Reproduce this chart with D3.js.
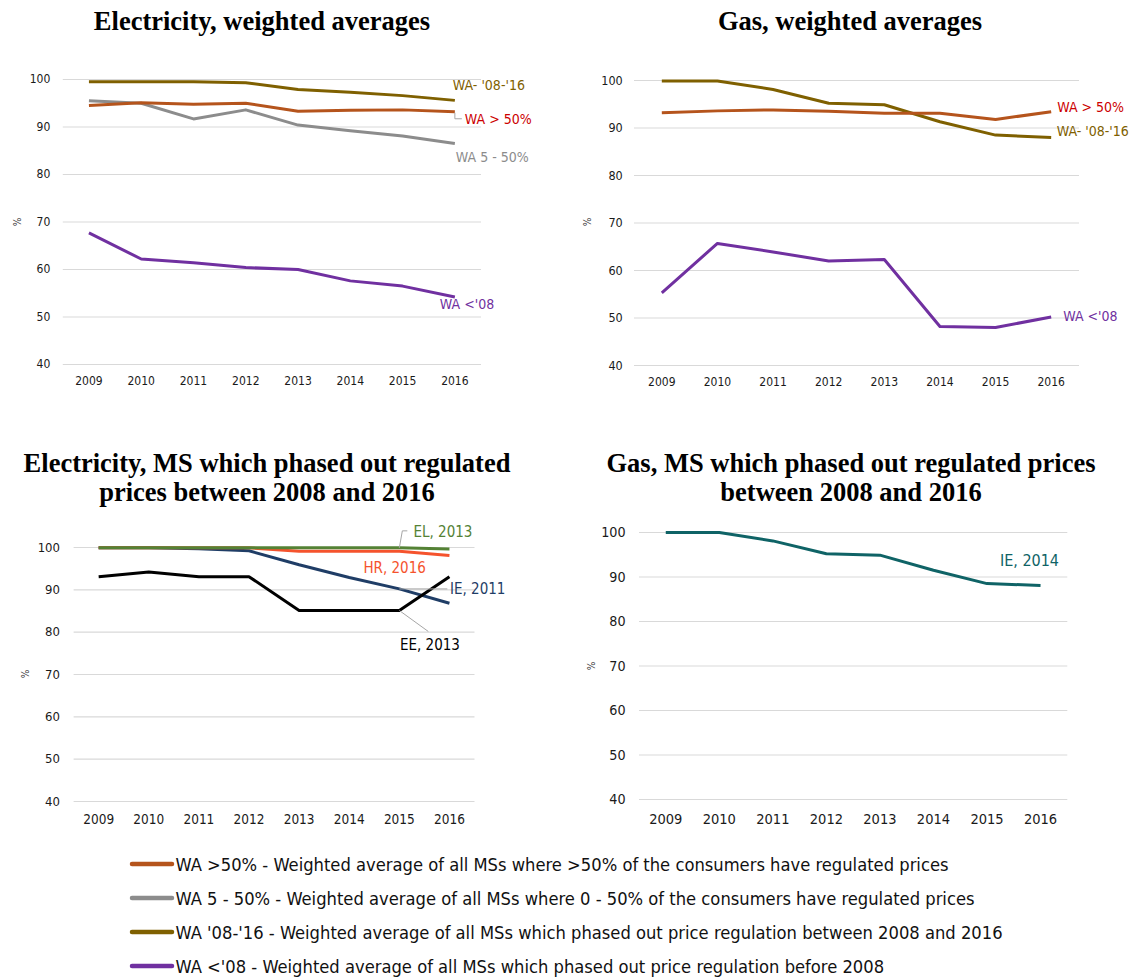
<!DOCTYPE html>
<html>
<head>
<meta charset="utf-8">
<script src="https://cdn.jsdelivr.net/npm/d3@7"></script>
<style>
  html, body { margin: 0; padding: 0; background: #ffffff; }
  svg { display: block; }
</style>
</head>
<body>
<script>
// ---------------- DATA ----------------
const years = ["2009", "2010", "2011", "2012", "2013", "2014", "2015", "2016"];
const yTicks = [40, 50, 60, 70, 80, 90, 100];

// Electricity, weighted averages
const elecWA_gt50 = [94.4, 95.0, 94.7, 94.9, 93.2, 93.4, 93.5, 93.1];
const elecWA_5to50 = [95.4, 94.9, 91.6, 93.5, 90.3, 89.1, 88.0, 86.4];
const elecWA_0816 = [99.4, 99.4, 99.4, 99.2, 97.8, 97.2, 96.5, 95.5];
const elecWA_lt08 = [67.6, 62.1, 61.3, 60.3, 59.9, 57.5, 56.4, 54.1];

// Gas, weighted averages
const gasWA_gt50 = [93.1, 93.5, 93.7, 93.4, 93.0, 93.0, 91.7, 93.3];
const gasWA_0816 = [99.8, 99.8, 98.0, 95.1, 94.8, 91.2, 88.4, 87.9];
const gasWA_lt08 = [55.2, 65.6, 63.8, 61.9, 62.2, 48.1, 47.9, 50.1];

// Electricity, MS which phased out regulated prices between 2008 and 2016
const elecMS_IE = [99.8, 99.8, 99.6, 99.1, 95.8, 92.8, 90.1, 86.7];
const elecMS_HR = [99.8, 99.8, 99.8, 99.8, 99.0, 99.0, 99.0, 98.0];
const elecMS_EE = [93.0, 94.1, 93.0, 93.0, 85.0, 85.0, 85.0, 93.0];
const elecMS_EL = [99.8, 99.8, 99.8, 99.8, 99.8, 99.8, 99.8, 99.5];

// Gas, MS which phased out regulated prices between 2008 and 2016
const gasMS_IE = [99.9, 99.9, 98.0, 95.1, 94.8, 91.4, 88.4, 88.0];

const titles = [
  ["Electricity, weighted averages"],
  ["Gas, weighted averages"],
  ["Electricity, MS which phased out regulated", "prices between 2008 and 2016"],
  ["Gas, MS which phased out regulated prices", "between 2008 and 2016"]
];

const legendLabels = [
  "WA >50% - Weighted average of all MSs where >50% of the consumers have regulated prices",
  "WA 5 - 50% - Weighted average of all MSs where 0 - 50% of the consumers have regulated prices",
  "WA '08-'16 - Weighted average of all MSs which phased out price regulation between 2008 and 2016",
  "WA <'08 - Weighted average of all MSs which phased out price regulation before 2008"
];

// ---------------- STYLE ----------------
const C = {
  gt50: "#b5541c", grey: "#8c8c8c", olive: "#7f6000", purple: "#7030a0",
  red: "#cc0000", green: "#548235", hr: "#f5532d", navy: "#1f3d66",
  black: "#000000", teal: "#0f6366", grid: "#d9d9d9", leader: "#a6a6a6"
};
const SANS = "'DejaVu Sans Condensed', 'DejaVu Sans', Tahoma, sans-serif";
const SERIF = "'Liberation Serif', 'Times New Roman', serif";

const svg = d3.select("body").append("svg")
  .attr("width", 1137).attr("height", 978);

function drawPanel(cfg) {
  const g = svg.append("g");
  const x = d3.scaleBand().domain(years).range([cfg.x0, cfg.x1]);
  const cx = d => x(d) + x.bandwidth() / 2;
  const y = d3.scaleLinear().domain([40, 100]).range([cfg.y40, cfg.y100]);

  // y axis with gridlines
  const ya = g.append("g").attr("transform", `translate(${cfg.x0},0)`)
    .call(d3.axisLeft(y).tickValues(yTicks).tickSize(-(cfg.x1 - cfg.x0)).tickPadding(cfg.yPad));
  ya.select(".domain").remove();
  ya.selectAll(".tick line").attr("stroke", C.grid).attr("stroke-width", 1.2);
  ya.selectAll(".tick text").attr("font-family", SANS).attr("font-size", cfg.tickFs).attr("fill", "#1a1a1a");

  // x axis
  const xa = g.append("g").attr("transform", `translate(0,${cfg.y40})`)
    .call(d3.axisBottom(x).tickSize(0).tickPadding(cfg.xPad));
  xa.select(".domain").remove();
  xa.selectAll(".tick text").attr("font-family", SANS).attr("font-size", cfg.yearFs).attr("fill", "#1a1a1a");

  // % label
  g.append("text")
    .attr("transform", `translate(${cfg.pctX},${cfg.pctY}) rotate(-90)`)
    .attr("text-anchor", "middle").attr("dy", "0.35em")
    .attr("font-family", SANS).attr("font-size", 10).attr("fill", "#404040")
    .text("%");

  // title
  const t = svg.append("text").attr("text-anchor", "middle")
    .attr("font-family", SERIF).attr("font-weight", "bold").attr("font-size", 26.5)
    .attr("fill", "#000");
  cfg.title.forEach((line, i) => {
    t.append("tspan").attr("x", cfg.titleX).attr("y", cfg.titleY + i * 29).text(line);
  });

  const line = d3.line().x((d, i) => cx(years[i])).y(d => y(d));
  const last = years[years.length - 1];
  cfg.series.forEach(s => {
    g.append("path").datum(s.values)
      .attr("fill", "none").attr("stroke", s.color).attr("stroke-width", 3)
      .attr("stroke-linejoin", "round").attr("d", line);
  });
  cfg.series.forEach(s => {
    const px = cx(last), py = y(s.values[s.values.length - 1]);
    if (s.leader) {
      const pts = s.leader.map(p => [cx(years[p[0]]) + p[1], y(s.values[p[0]]) + p[2]]);
      g.append("path").attr("fill", "none").attr("stroke", C.leader).attr("stroke-width", 1)
        .attr("d", d3.line()(pts));
    }
    g.append("text")
      .attr("x", px + s.dx).attr("y", py + s.dy).attr("dy", "0.36em")
      .attr("font-family", SANS).attr("font-size", cfg.labelFs)
      .attr("fill", s.labelColor || s.color)
      .text(s.label);
  });
}

drawPanel({
  x0: 62.8, x1: 481, y100: 79, y40: 364, yPad: 12.5, xPad: 12, tickFs: 12, yearFs: 12, labelFs: 14,
  pctX: 17, pctY: 222, titleX: 262, titleY: 30, title: titles[0],
  series: [
    { values: elecWA_lt08, color: C.purple, label: "WA <'08", dx: -15, dy: 6.5 },
    { values: elecWA_5to50, color: C.grey, label: "WA 5 - 50%", dx: 1, dy: 13 },
    { values: elecWA_gt50, color: C.gt50, labelColor: C.red, label: "WA > 50%", dx: 10, dy: 7.5,
      leader: [[7, 0, 1], [7, 0, 7], [7, 7, 7]] },
    { values: elecWA_0816, color: C.olive, label: "WA- '08-'16", dx: -2, dy: -15 }
  ]
});

drawPanel({
  x0: 634, x1: 1079, y100: 80, y40: 365, yPad: 11.3, xPad: 12, tickFs: 12.5, yearFs: 12, labelFs: 14,
  pctX: 587, pctY: 222, titleX: 850, titleY: 30, title: titles[1],
  series: [
    { values: gasWA_lt08, color: C.purple, label: "WA <'08", dx: 12, dy: -1.5 },
    { values: gasWA_0816, color: C.olive, label: "WA- '08-'16", dx: 5.5, dy: -7 },
    { values: gasWA_gt50, color: C.gt50, labelColor: C.red, label: "WA > 50%", dx: 6, dy: -5 }
  ]
});

drawPanel({
  x0: 73.6, x1: 474.5, y100: 547, y40: 801, yPad: 13.6, xPad: 13, tickFs: 13, yearFs: 13.5, labelFs: 15,
  pctX: 25, pctY: 674, titleX: 267, titleY: 472, title: titles[2],
  series: [
    { values: elecMS_IE, color: C.navy, label: "IE, 2011", dx: 0.6, dy: -14.3,
      leader: [[6, 0, 0], [6, 48, 0]] },
    { values: elecMS_HR, color: C.hr, label: "HR, 2016", dx: -86, dy: 11.8 },
    { values: elecMS_EE, color: C.black, label: "EE, 2013", dx: -49.5, dy: 68.4,
      leader: [[6, 0, 0], [6, 29, 21]] },
    { values: elecMS_EL, color: C.green, label: "EL, 2013", dx: -36, dy: -17.3,
      leader: [[6, 0, 0], [6, 3, -17], [6, 8, -17]] }
  ]
});

drawPanel({
  x0: 639, x1: 1067.3, y100: 532, y40: 799, yPad: 13.4, xPad: 15, tickFs: 14.2, yearFs: 14.5, labelFs: 16,
  pctX: 591, pctY: 666, titleX: 851, titleY: 472, title: titles[3],
  series: [
    { values: gasMS_IE, color: C.teal, label: "IE, 2014", dx: -40.6, dy: -25 }
  ]
});

// ---------------- LEGEND ----------------
const legendColors = [C.gt50, C.grey, C.olive, C.purple];
const lg = svg.append("g");
const ly = d3.scalePoint().domain(legendLabels).range([864, 966]);
legendLabels.forEach((lab, i) => {
  lg.append("line").attr("x1", 132).attr("x2", 172).attr("y1", ly(lab)).attr("y2", ly(lab))
    .attr("stroke", legendColors[i]).attr("stroke-width", 4.5).attr("stroke-linecap", "round");
  lg.append("text").attr("x", 175.5).attr("y", ly(lab)).attr("dy", "0.36em")
    .attr("font-family", SANS).attr("font-size", 18.2).attr("fill", "#111")
    .text(lab);
});
</script>
</body>
</html>
